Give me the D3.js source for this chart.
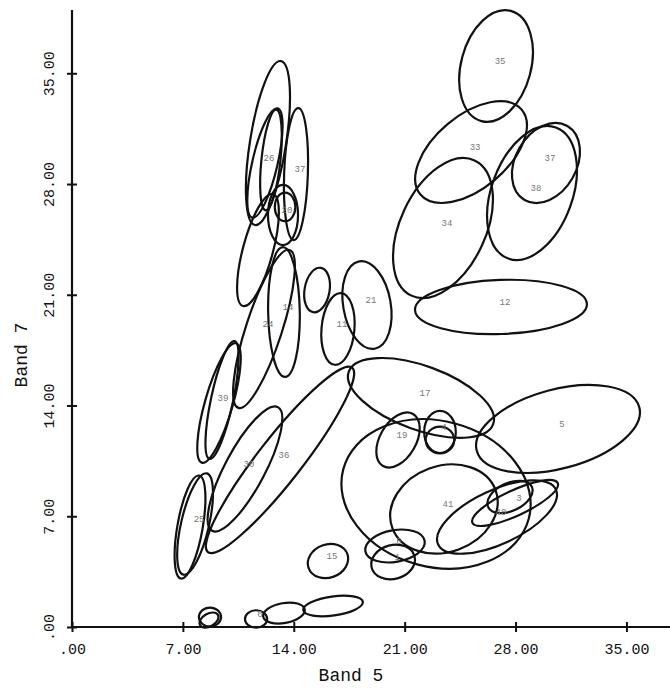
<!DOCTYPE html>
<html>
<head>
<meta charset="utf-8">
<script src="https://cdn.jsdelivr.net/npm/d3@7"></script>
<style>
  body { margin: 0; background: #fff; }
  text { font-family: "Liberation Mono", "DejaVu Sans Mono", monospace; }
</style>
</head>
<body>
<script>
const w = 670;
const h = 688;

// class labels and ellipse parameters (Band 5 / Band 7 units)
const labels = ["35","33","34","38","37","12",
                "","11","21",
                "","37","26","","20","","","14","24",
                "39","","30","36","25","",
                "15","","","6","","",
                "17","5","","41","40","3","","19","4","","6","1"];
const band5 = [26.77,25.19,23.42,29.04,29.92,27.08,
               15.47,16.79,18.62,
               12.37,14.14,12.18,12.56,13.32,13.45,11.74,13.38,12.12,
               9.28,9.47,10.92,13.13,7.77,7.45,
               16.16,8.71,8.65,11.62,13.38,16.48,
               22.03,30.68,22.98,23.48,26.83,27.97,27.65,20.58,23.23,23.23,20.39,20.27];
const band7 = [35.46,30.02,25.22,27.43,29.33,20.23,
               21.30,18.84,20.35,
               30.59,28.63,29.33,29.52,26.04,26.55,23.83,19.91,18.84,
               14.16,14.35,9.99,10.56,6.51,6.32,
               4.17,0.63,0.44,0.51,0.88,1.33,
               14.48,12.52,8.41,7.46,6.95,7.84,8.22,11.82,12.33,11.82,5.12,4.11];
const semiA = [3.60,4.17,4.71,4.40,2.70,5.43,
               1.42,2.27,2.80,
               5.24,4.17,3.54,3.20,1.90,0.90,3.66,4.10,5.24,
               3.92,3.80,4.42,7.39,3.28,3.30,
               1.30,0.70,0.65,0.70,1.33,1.90,
               4.85,5.31,6.06,3.47,4.10,2.97,1.52,1.90,1.33,0.90,1.90,1.40];
const semiB = [2.21,2.31,2.70,2.56,1.93,1.71,
               0.79,1.04,1.50,
               1.14,0.75,0.80,0.60,0.95,0.65,0.95,1.00,1.14,
               0.88,0.70,1.26,1.39,0.88,0.80,
               1.05,0.60,0.40,0.55,0.63,0.60,
               2.02,2.50,4.61,2.72,1.70,0.80,0.88,1.14,1.00,0.85,1.00,1.07];
const angle = [75,40,65,70,60,2,
               80,85,100,
               81,88,77,84,90,90,75,91,72,
               74,78,62,52,77,80,
               20,0,30,0,10,8,
               -20,15,-15,20,25,25,25,60,90,0,10,15];

const xTicks = [0, 7, 14, 21, 28, 35];
const yTicks = [0, 7, 14, 21, 28, 35];

const svg = d3.select("body")
              .append("svg")
              .attr("width", w)
              .attr("height", h);

const xScale = d3.scaleLinear()
                 .domain([0, 37.75])
                 .range([72, 670]);

const yScale = d3.scaleLinear()
                 .domain([0, 39])
                 .range([627, 10]);

const ux = xScale(1) - xScale(0);
const uy = yScale(0) - yScale(1);

const data = labels.map((l, i) => ({
    label: l, x: band5[i], y: band7[i], a: semiA[i], b: semiB[i], ang: angle[i]
}));

// ellipses
const g = svg.selectAll("g.ell")
    .data(data)
    .enter()
    .append("g")
    .attr("class", "ell")
    .attr("transform", d => "translate(" + xScale(d.x) + "," + yScale(d.y) + ") rotate(" + (-d.ang) + ")");

g.append("ellipse")
    .attr("rx", d => d.a * ux)
    .attr("ry", d => d.b * uy)
    .attr("fill", "none")
    .attr("stroke", "#111")
    .attr("stroke-width", 2.2);

svg.selectAll("text.lab")
    .data(data.filter(d => d.label !== ""))
    .enter()
    .append("text")
    .attr("class", "lab")
    .attr("x", d => xScale(d.x) + 4)
    .attr("y", d => yScale(d.y) - 2)
    .attr("text-anchor", "middle")
    .attr("font-size", 9)
    .attr("fill", "#777")
    .text(d => d.label);

// axes
const fmt = d => d === 0 ? ".00" : d3.format(".2f")(d);

const xAxis = d3.axisBottom(xScale)
                .tickValues(xTicks)
                .tickSize(5)
                .tickSizeOuter(0)
                .tickPadding(11)
                .tickFormat(fmt);

const gx = svg.append("g")
    .attr("transform", "translate(0," + yScale(0) + ")")
    .call(xAxis);
gx.select(".domain").attr("stroke", "#111").attr("stroke-width", 2.2)
  .attr("d", "M" + xScale(0) + ",0H" + w);
gx.selectAll(".tick line").attr("y1", -5).attr("y2", 5).attr("stroke", "#111").attr("stroke-width", 2);
gx.selectAll(".tick text").attr("font-size", 15).attr("fill", "#111")
  .attr("font-family", "Liberation Mono, monospace");

const yAxis = d3.axisLeft(yScale)
                .tickValues(yTicks)
                .tickSize(5)
                .tickSizeOuter(0)
                .tickFormat(fmt);

const gy = svg.append("g")
    .attr("transform", "translate(" + xScale(0) + ",0)")
    .call(yAxis);
gy.select(".domain").attr("stroke", "#111").attr("stroke-width", 2.2)
  .attr("d", "M0," + yScale(0) + "V10");
gy.selectAll(".tick line").attr("x1", -5).attr("x2", 5).attr("stroke", "#111").attr("stroke-width", 2);
gy.selectAll(".tick text")
  .attr("font-size", 15).attr("fill", "#111")
  .attr("font-family", "Liberation Mono, monospace")
  .attr("text-anchor", "middle")
  .attr("x", 0).attr("dy", 0)
  .attr("transform", "translate(-18,0) rotate(-90)");

// axis titles
svg.append("text")
    .attr("x", 351)
    .attr("y", 681)
    .attr("text-anchor", "middle")
    .attr("font-size", 18)
    .attr("fill", "#111")
    .text("Band 5");

svg.append("text")
    .attr("transform", "translate(27,355) rotate(-90)")
    .attr("text-anchor", "middle")
    .attr("font-size", 18)
    .attr("fill", "#111")
    .text("Band 7");
</script>
</body>
</html>
